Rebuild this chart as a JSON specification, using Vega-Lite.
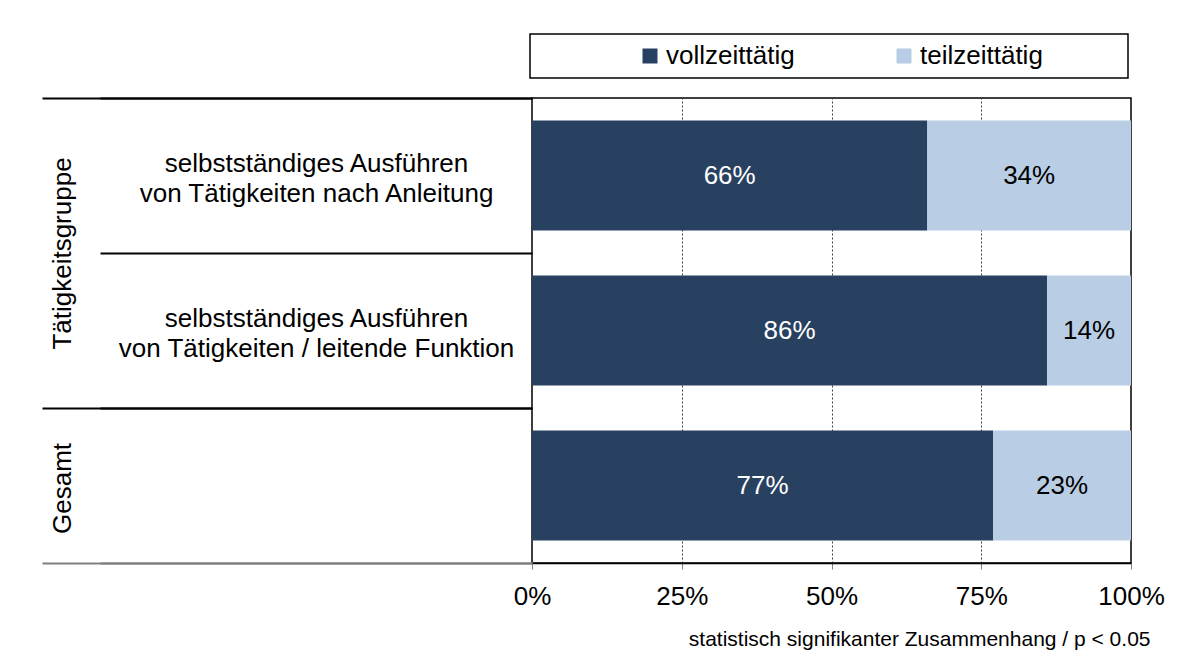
{
  "$schema": "https://vega.github.io/schema/vega-lite/v6.json",
  "width": 599,
  "height": 465,
  "autosize": {"type": "none"},
  "padding": {"left": 532, "top": 98, "right": 51, "bottom": 92},
  "background": "white",
  "config": {
    "font": "Liberation Sans",
    "view": {"stroke": "black", "strokeWidth": 1.5},
    "axis": {"labelFont": "Liberation Sans", "titleFont": "Liberation Sans", "labelColor": "black", "titleColor": "black"},
    "legend": {"labelFont": "Liberation Sans", "titleFont": "Liberation Sans", "strokeWidth": 1.5}
  },
  "data": {
    "values": [
      {"activity": "selbstständiges Ausführen von Tätigkeiten nach Anleitung", "group": "Tätigkeitsgruppe", "status": "vollzeittätig", "k": 1, "share": 0.66},
      {"activity": "selbstständiges Ausführen von Tätigkeiten nach Anleitung", "group": "Tätigkeitsgruppe", "status": "teilzeittätig", "k": 2, "share": 0.34},
      {"activity": "selbstständiges Ausführen von Tätigkeiten / leitende Funktion", "group": "Tätigkeitsgruppe", "status": "vollzeittätig", "k": 1, "share": 0.86},
      {"activity": "selbstständiges Ausführen von Tätigkeiten / leitende Funktion", "group": "Tätigkeitsgruppe", "status": "teilzeittätig", "k": 2, "share": 0.14},
      {"activity": "Gesamt", "group": "Gesamt", "status": "vollzeittätig", "k": 1, "share": 0.77},
      {"activity": "Gesamt", "group": "Gesamt", "status": "teilzeittätig", "k": 2, "share": 0.23}
    ]
  },
  "layer": [
    {
      "mark": {"type": "bar", "height": {"band": 0.71}},
      "encoding": {
        "y": {
          "field": "activity", "type": "nominal", "sort": null,
          "scale": {"paddingInner": 0, "paddingOuter": 0},
          "axis": {
            "orient": "left",
            "title": "Tätigkeitsgruppe",
            "titleX": -470, "titleY": 155, "titleAngle": 270,
            "titleAlign": "center", "titleBaseline": "middle",
            "titleFontSize": 26, "titleFontWeight": "normal",
            "domain": false,
            "tickBand": "extent", "tickSize": 432, "tickWidth": 2,
            "tickColor": {"condition": {"test": "datum.value === 'Gesamt'", "value": "#808080"}, "value": "black"},
            "labelExpr": "(datum.value && datum.value !== 'Gesamt') ? [slice(datum.value, 0, indexof(datum.value, ' von ')), slice(datum.value, indexof(datum.value, ' von ') + 1)] : ''",
            "labelAlign": "center", "labelBaseline": "middle",
            "labelPadding": -216, "labelOffset": -12, "labelFontSize": 26, "labelLineHeight": 30,
            "labelLimit": 600, "labelOverlap": false
          }
        },
        "x": {
          "field": "share", "type": "quantitative", "stack": "zero",
          "title": "statistisch signifikanter Zusammenhang / p < 0.05",
          "scale": {"domain": [0, 1]},
          "axis": {
            "values": [0, 0.25, 0.5, 0.75, 1],
            "format": ".0%",
            "labelFontSize": 26, "labelFlush": false, "labelPadding": 14,
            "tickSize": 6, "tickColor": "#808080",
            "domainColor": "black", "domainWidth": 1.5,
            "grid": true, "gridColor": "#404040", "gridDash": [2, 2], "gridWidth": 1,
            "titleFontSize": 21, "titleFontWeight": "normal",
            "titleAlign": "right", "titleX": 618, "titleY": 82, "titleBaseline": "alphabetic"
          }
        },
        "color": {
          "field": "status", "type": "nominal",
          "scale": {"domain": ["vollzeittätig", "teilzeittätig"], "range": ["#284161", "#B9CDE5"]},
          "legend": {
            "orient": "none", "legendX": -2, "legendY": -64,
            "direction": "horizontal",
            "title": "\u00a0", "titleOrient": "left", "titlePadding": 98, "titleFontSize": 11,
            "padding": 9, "strokeColor": "black",
            "columnPadding": 20,
            "labelFontSize": 26, "labelColor": "black", "labelOffset": 3, "labelLimit": 800,
            "symbolType": "square", "symbolSize": 225, "symbolStrokeWidth": 0,
            "labelExpr": "datum.label + '\u2800\u2800\u2800\u2800'"
          }
        },
        "order": {"field": "k", "type": "quantitative"}
      }
    },
    {
      "mark": {"type": "text", "fontSize": 26, "baseline": "middle", "align": "center", "font": "Liberation Sans"},
      "encoding": {
        "y": {
          "field": "activity", "type": "nominal", "sort": null,
          "axis": {
            "orient": "left",
            "title": "Gesamt",
            "titleX": -470, "titleY": 390, "titleAngle": 270,
            "titleAlign": "center", "titleBaseline": "middle",
            "titleFontSize": 26, "titleFontWeight": "normal",
            "domain": false, "labels": false,
            "tickBand": "extent", "tickSize": 490, "tickWidth": 2,
            "tickOpacity": {"condition": {"test": "datum.value === 'selbstständiges Ausführen von Tätigkeiten nach Anleitung'", "value": 0}, "value": 1},
            "tickColor": {"condition": {"test": "datum.value === 'Gesamt'", "value": "#808080"}, "value": "black"}
          }
        },
        "x": {
          "field": "share", "type": "quantitative", "stack": "zero", "bandPosition": 0.5,
          "title": "statistisch signifikanter Zusammenhang / p < 0.05"
        },
        "detail": {"field": "status", "type": "nominal"},
        "order": {"field": "k", "type": "quantitative"},
        "text": {"field": "share", "type": "quantitative", "format": ".0%"},
        "color": {"condition": {"test": "datum.status === 'vollzeittätig'", "value": "white"}, "value": "black"}
      }
    }
  ],
  "resolve": {"axis": {"y": "independent"}}
}
